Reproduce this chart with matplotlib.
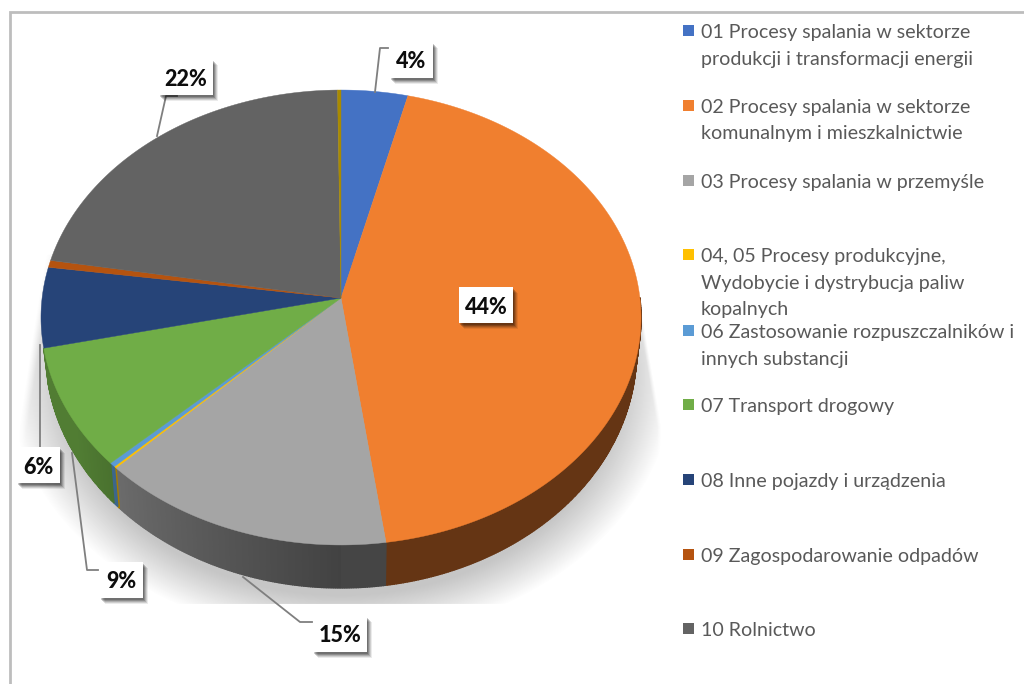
import numpy as np
import matplotlib
matplotlib.use("Agg")
import matplotlib.pyplot as plt
from matplotlib.patches import Polygon, Rectangle

categories = ["01 Procesy spalania w sektorze\nprodukcji i transformacji energii",
              "02 Procesy spalania w sektorze\nkomunalnym i mieszkalnictwie",
              "03 Procesy spalania w przemyśle",
              "04, 05 Procesy produkcyjne,\nWydobycie i dystrybucja paliw\nkopalnych",
              "06 Zastosowanie rozpuszczalników i\ninnych substancji",
              "07 Transport drogowy",
              "08 Inne pojazdy i urządzenia",
              "09 Zagospodarowanie odpadów",
              "10 Rolnictwo"]
values = [3.9, 43.9, 14.7, 0.12, 0.3, 8.58, 5.7, 0.5, 22.1, 0.2]
labels = ["4%", "44%", "15%", "", "", "9%", "6%", "", "22%", ""]
colors = ["#4472C4", "#F07F2F", "#A5A5A5", "#FFC000", "#5B9BD5", "#70AD47", "#264478", "#B5530F", "#636363", "#A98A00"]
legend_y = [31, 106, 181, 255, 331, 405, 480, 555, 629]
label_xy = [(411, 60), (486, 305), (340, 634), None, None, (121, 580), (38, 465), None, (186, 77), None]

plt.rcParams['font.family'] = ['Lato', 'DejaVu Sans']
fig = plt.figure(figsize=(10.24, 6.84), dpi=100)
ax = fig.add_axes([0, 0, 1, 1])
ax.set_xlim(0, 1024); ax.set_ylim(684, 0); ax.axis('off')

CX, CY = 341, 298
K, A, B = 0.0857, 225.8, 298.9

def proj(frac, depth=0.0):
    t = 2*np.pi*np.asarray(frac, float)
    u, v = np.sin(t), np.cos(t)
    d = 1 + K*v
    return CX + (1 - 0.015*depth)*B*u/d, CY - A*v/d + depth*(33 - 10*v)

# shadow
H, W = 684, 1024
yy, xx = np.mgrid[0:H, 0:W]
ell = ((xx-341)/334.0)**2 + ((yy-375)/264.0)**2
sh = np.clip((1.0-ell)/0.30, 0, 1)
left = 45 - (yy-260)*0.154
right = np.minimum(641 + (yy-310)*0.17, 661)
sh = sh*np.clip(xx-left, 0, 8)/8*np.clip(right-xx, 0, 4)/4*(yy < 605)*(yy > 255)
rgba = np.zeros((H, W, 4)); rgba[..., :3] = 0.47; rgba[..., 3] = 0.42*sh
ax.imshow(rgba, extent=(-.5, W-.5, H-.5, -.5), zorder=1, interpolation='bilinear', aspect='auto')
ax.set_xlim(0, 1024); ax.set_ylim(684, 0)

# frame
ax.plot([9.5, 9.5, 1024], [684, 12, 12], color="#BDBDBD", lw=2, zorder=2, solid_joinstyle='miter')

edges = np.concatenate([[0], np.cumsum(values)])/sum(values)
# walls
for i, c in enumerate(colors):
    n = max(2, int((edges[i+1]-edges[i])*900))
    f = np.linspace(edges[i], edges[i+1], n)
    base = np.array(matplotlib.colors.to_rgb(c))
    for a, b in zip(f[:-1], f[1:]):
        m = (a+b)/2
        if m < 0.25 or m > 0.715:
            continue
        xa, ya = proj(a); xb, yb = proj(b)
        xc, yc = proj(b, depth=1); xd, yd = proj(a, depth=1)
        shade = min(0.72, 0.40 + (m-0.5)*2.0) if m > 0.5 else 0.42
        col = np.clip(base*shade, 0, 1)
        ax.add_patch(Polygon([(xa, ya), (xb, yb), (xc, yc), (xd, yd)], closed=True, fc=col, ec=col, lw=1.0, zorder=3))
# top face
for i, c in enumerate(colors):
    e0, e1 = edges[i], edges[i+1]
    f = np.linspace(e0, e1, max(3, int((e1-e0)*720)))
    x, y = proj(f)
    ax.add_patch(Polygon(np.vstack([[CX, CY], np.column_stack([x, y])]), closed=True, fc=c, ec=c, lw=0.3, zorder=4))

# leaders
leaders = [[(375, 92), (380, 48), (388, 48)], [(157, 136), (166, 96), (177, 96)],
           [(40, 345), (40, 447)], [(72, 453), (87, 570), (98, 570)], [(243, 577), (300, 622), (312, 622)]]
for l in leaders:
    p = np.array(l)
    ax.plot(p[:, 0], p[:, 1], color="#7F7F7F", lw=1.3, zorder=5)

# data labels
for lab, xy in zip(labels, label_xy):
    if not lab:
        continue
    w = 43 if len(lab) == 2 else 54
    h = 36
    x, y = xy
    for off, al in [(6, .08), (5, .12), (4, .15), (3, .2), (2, .2)]:
        ax.add_patch(Rectangle((x-w/2+off-1, y-h/2+off), w, h, fc='k', ec='none', alpha=al, zorder=6))
    ax.add_patch(Rectangle((x-w/2, y-h/2), w, h, fc='white', ec='none', zorder=7))
    ax.text(x, y+2, lab, ha='center', va='center', fontsize=15.5, fontweight=900, color='#0D0D0D', zorder=8)

# legend
for cat, c, y in zip(categories, colors, legend_y):
    ax.add_patch(Rectangle((683, y-6), 11, 11, fc=c, ec='none', zorder=5))
    for j, line in enumerate(cat.split("\n")):
        ax.text(701, y+7+j*26.5, line, ha='left', va='baseline', fontsize=14.15, color='#595959', zorder=5)

fig.savefig("out.png", dpi=100)
